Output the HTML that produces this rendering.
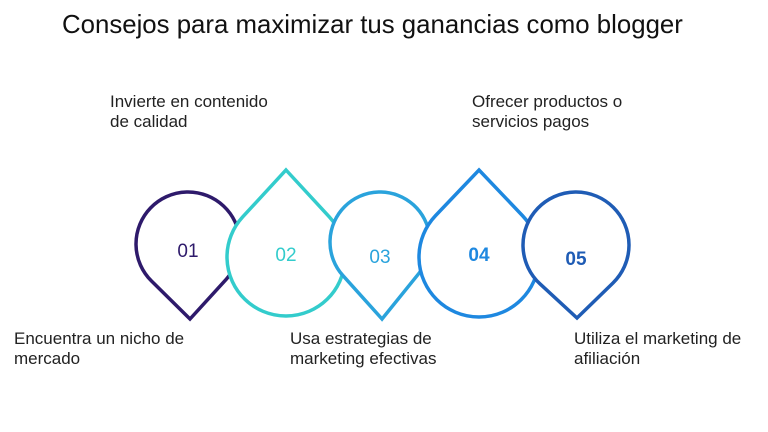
<!DOCTYPE html>
<html><head><meta charset="utf-8"><style>
body{margin:0;width:768px;height:432px;background:#fff;overflow:hidden;font-family:"Liberation Sans",sans-serif;position:relative}
.t{position:absolute;font-size:17px;line-height:20px;color:#222}
</style></head><body>
<div class="t" style="left:62px;top:9px;font-size:25.8px;line-height:32px;color:#111">Consejos para maximizar tus ganancias como blogger</div>
<div class="t" style="left:110px;top:92px">Invierte en contenido<br>de calidad</div>
<div class="t" style="left:472px;top:92px">Ofrecer productos o<br>servicios pagos</div>
<div class="t" style="left:14px;top:329px">Encuentra un nicho de<br>mercado</div>
<div class="t" style="left:290px;top:329px">Usa estrategias de<br>marketing efectivas</div>
<div class="t" style="left:574px;top:329px">Utiliza el marketing de<br>afiliación</div>
<svg id="s" width="768" height="432" style="position:absolute;left:0;top:0"></svg>
<script>
var d=[[188,244,52,190,319,"#2e1a6b","01",400,257],[286,257,59,286,170,"#33cccc","02",400,261],[380,242,50,382,319,"#2aa3dc","03",400,263],[479,257,60,479,170,"#1e88e0","04",700,261],[576,245,53,577,318,"#1f5cb5","05",700,265]];
var h="";
d.forEach(function(a){var cx=a[0],cy=a[1],r=a[2],px=a[3],py=a[4];
var dx=px-cx,dy=py-cy,L=Math.hypot(dx,dy),ang=Math.atan2(dy,dx),al=Math.acos(r/L);
var x1=cx+r*Math.cos(ang+al),y1=cy+r*Math.sin(ang+al),x2=cx+r*Math.cos(ang-al),y2=cy+r*Math.sin(ang-al);
h+='<path d="M'+px+' '+py+' L'+x1+' '+y1+' A'+r+' '+r+' 0 1 1 '+x2+' '+y2+' Z" fill="#fff" stroke="'+a[5]+'" stroke-width="3.5" stroke-linejoin="miter"/>';
h+='<text x="'+cx+'" y="'+a[8]+'" text-anchor="middle" font-family="Liberation Sans" font-size="19" font-weight="'+a[7]+'" fill="'+a[5]+'">'+a[6]+'</text>';});
document.getElementById("s").innerHTML=h;
</script>
</body></html>
